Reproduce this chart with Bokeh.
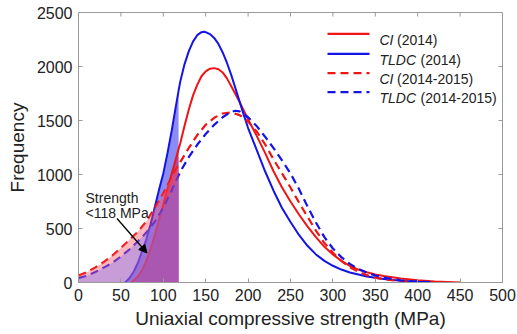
import numpy as np
from bokeh.plotting import figure
from bokeh.models import Label, Arrow, NormalHead, Range1d
from bokeh.embed import file_html
from bokeh.resources import INLINE

# ---------------- data ----------------
x_ticks = [0, 50, 100, 150, 200, 250, 300, 350, 400, 450, 500]
y_ticks = [0, 500, 1000, 1500, 2000, 2500]
threshold = 118  # MPa

ci14_x = [62, 65, 70, 75, 80, 85, 90, 95, 100, 105, 110, 115, 118, 120, 125, 130, 135, 140,
          145, 150, 155, 160, 165, 170, 175, 180, 185, 190, 195, 200, 210, 220, 230, 240,
          250, 260, 270, 280, 290, 300, 310, 320, 330, 340, 350, 360, 380, 400, 420, 450]
ci14_y = [0, 18, 55, 115, 200, 310, 440, 580, 720, 870, 1010, 1150, 1235, 1290, 1450, 1600,
          1730, 1830, 1910, 1955, 1980, 1985, 1975, 1945, 1890, 1820, 1745, 1670, 1590, 1510,
          1360, 1200, 1030, 880, 750, 630, 520, 420, 330, 260, 200, 155, 120, 95, 75, 60,
          38, 22, 10, 0]

tldc14_x = [55, 60, 65, 70, 75, 80, 85, 90, 95, 100, 105, 110, 115, 118, 120, 125, 130, 135,
            140, 145, 148, 150, 155, 160, 165, 170, 175, 180, 185, 190, 195, 200, 210, 220,
            230, 240, 250, 260, 270, 280, 290, 300, 310, 320, 340, 360, 380, 400, 415]
tldc14_y = [0, 40, 100, 180, 290, 400, 540, 700, 860, 1010, 1200, 1410, 1640, 1775, 1860,
            2020, 2140, 2230, 2290, 2318, 2322, 2318, 2300, 2265, 2210, 2130, 2035, 1925,
            1800, 1675, 1550, 1430, 1230, 1030, 850, 690, 560, 440, 340, 260, 200, 155, 120,
            92, 55, 32, 16, 6, 0]

ci1415_x = [0, 10, 20, 30, 40, 50, 60, 70, 80, 90, 100, 110, 118, 120, 130, 140, 150, 160,
            170, 180, 190, 200, 210, 220, 230, 240, 250, 260, 270, 280, 290, 300, 310, 320,
            330, 340, 350, 360, 380, 400]
ci1415_y = [65, 95, 140, 190, 250, 320, 395, 470, 565, 690, 825, 975, 1090, 1115, 1245, 1365,
            1460, 1525, 1565, 1575, 1550, 1490, 1400, 1280, 1140, 1010, 880, 740, 610, 480,
            365, 275, 200, 140, 100, 68, 45, 30, 12, 4]

tldc1415_x = [0, 10, 20, 30, 40, 50, 60, 70, 80, 90, 100, 110, 118, 120, 130, 140, 150, 160,
              170, 180, 185, 190, 200, 210, 220, 230, 240, 250, 260, 270, 280, 290, 300, 310,
              320, 330, 340, 350, 360, 380, 400, 420]
tldc1415_y = [40, 62, 98, 138, 183, 240, 305, 380, 462, 560, 690, 850, 990, 1025, 1160, 1275,
              1375, 1460, 1530, 1580, 1590, 1585, 1530, 1450, 1350, 1245, 1130, 1010, 865, 705,
              555, 420, 315, 235, 172, 125, 90, 65, 45, 20, 8, 2]

series_names = ["CI", "TLDC", "CI", "TLDC"]
series_years = ["(2014)", "(2014)", "(2014-2015)", "(2014-2015)"]

# ---------------- layout ----------------
W, H = 517, 334
FL, FR, FT, FB = 78, 502, 12, 282
XMAX, YMAX = 500, 2500
TICK_PX = 4


def dx(px):
    return (px - FL) / (FR - FL) * XMAX


def dy(py):
    return (FB - py) / (FB - FT) * YMAX


RED = "#f01414"
BLUE = "#1414e6"
FRAME = "#9a9a9a"
TXT = "#222222"
FONT = "Liberation Sans"

p = figure(width=W, height=H, x_range=Range1d(0, XMAX), y_range=Range1d(0, YMAX),
           output_backend="svg", toolbar_location=None,
           min_border_left=FL, min_border_right=W - FR,
           min_border_top=FT, min_border_bottom=H - FB)
p.grid.visible = False
p.outline_line_color = FRAME
p.background_fill_color = "white"
p.border_fill_color = "white"

for ax in (p.xaxis[0], p.yaxis[0]):
    ax.major_tick_in = TICK_PX
    ax.major_tick_out = 0
    ax.minor_tick_line_color = None
    ax.axis_line_color = FRAME
    ax.major_tick_line_color = FRAME
    ax.major_label_text_font = FONT
    ax.major_label_text_font_size = "16px"
    ax.major_label_text_color = TXT
    ax.axis_label_text_font = FONT
    ax.axis_label_text_font_size = "19px"
    ax.axis_label_text_font_style = "normal"
    ax.axis_label_text_color = TXT

p.xaxis.ticker = x_ticks
p.yaxis.ticker = y_ticks
p.xaxis.axis_label = "Uniaxial compressive strength (MPa)"
p.yaxis.axis_label = "Frequency"
p.xaxis.major_label_standoff = 6
p.xaxis.axis_label_standoff = 4
p.yaxis.major_label_standoff = 6
p.yaxis.axis_label_standoff = 6

# inward ticks on the top and right sides of the box
tlen_y = TICK_PX * YMAX / (FB - FT)
tlen_x = TICK_PX * XMAX / (FR - FL)
p.segment(x0=x_ticks, y0=[YMAX] * len(x_ticks), x1=x_ticks, y1=[YMAX - tlen_y] * len(x_ticks),
          line_color=FRAME, line_width=1)
p.segment(x0=[XMAX] * len(y_ticks), y0=y_ticks, x1=[XMAX - tlen_x] * len(y_ticks), y1=y_ticks,
          line_color=FRAME, line_width=1)


def under(xs, ys):
    xs = np.asarray(xs, float)
    ys = np.asarray(ys, float)
    m = xs <= threshold
    return xs[m], ys[m]


# fills under solid curves (below the lines)
bx, by = under(tldc14_x, tldc14_y)
p.varea(x=bx, y1=0, y2=by, fill_color="#5a5af0", fill_alpha=0.7)
rx, ry = under(ci14_x, ci14_y)
p.varea(x=rx, y1=0, y2=ry, fill_color="#c81e5a", fill_alpha=0.6)

# lines
p.line(ci14_x, ci14_y, line_color=RED, line_width=2)
p.line(tldc14_x, tldc14_y, line_color=BLUE, line_width=2)
p.line(ci1415_x, ci1415_y, line_color=RED, line_width=2.2, line_dash="8 5")
p.line(tldc1415_x, tldc1415_y, line_color=BLUE, line_width=2.2, line_dash="8 5")

# fills under dashed curves (drawn over the lines, tinting them)
cx, cy = under(ci1415_x, ci1415_y)
p.varea(x=cx, y1=0, y2=cy, fill_color="#ff4d5e", fill_alpha=0.4)
tx, ty = under(tldc1415_x, tldc1415_y)
p.varea(x=tx, y1=0, y2=ty, fill_color="#6e6eff", fill_alpha=0.38)

# annotation
p.add_layout(Label(x=dx(85), y=dy(197), text="Strength", text_font=FONT,
                   text_font_size="14px", text_color=TXT, text_baseline="alphabetic"))
p.add_layout(Label(x=dx(85), y=dy(212), text="<118 MPa", text_font=FONT,
                   text_font_size="14px", text_color=TXT, text_baseline="alphabetic"))
p.add_layout(Arrow(end=NormalHead(size=8, fill_color="black", line_color="black"),
                   x_start=dx(116.5), y_start=dy(218), x_end=dx(146.5), y_end=dy(252.5),
                   line_color="black", line_width=1.3))

# legend (manual, to allow italic series names)
line_rows = [33.3, 53.3, 72.7, 91.7]
base_rows = [39.3, 59.3, 78.6, 97.6]
colors = [RED, BLUE, RED, BLUE]
dashes = ["solid", "solid", "8 5", "8 5"]
year_x = {"CI": 396.5, "TLDC": 420}
for i in range(4):
    yl = dy(line_rows[i])
    p.line([dx(327), dx(369)], [yl, yl], line_color=colors[i], line_width=2.2,
           line_dash=dashes[i])
    p.add_layout(Label(x=dx(379), y=dy(base_rows[i]), text=series_names[i], text_font=FONT,
                       text_font_size="14px", text_font_style="italic", text_color=TXT,
                       text_baseline="alphabetic"))
    p.add_layout(Label(x=dx(year_x[series_names[i]]), y=dy(base_rows[i]),
                       text=series_years[i], text_font=FONT, text_font_size="14px",
                       text_color=TXT, text_baseline="alphabetic"))

open("out.html", "w").write(file_html(p, INLINE))
